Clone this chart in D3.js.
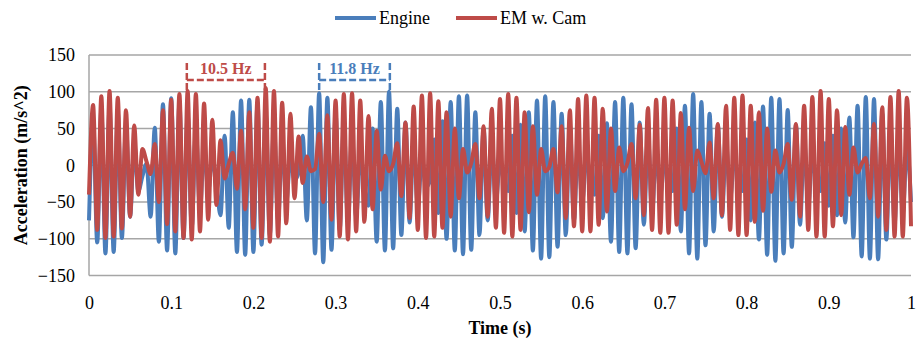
<!DOCTYPE html>
<html>
<head>
<meta charset="utf-8">
<script src="https://cdn.jsdelivr.net/npm/d3@7"></script>
<style>
  body { margin: 0; background: #fff; }
  svg text { font-family: "Liberation Serif", "Times New Roman", serif; fill: #000; }
</style>
</head>
<body>
<div id="chart"></div>
<script>
// acceleration extremes, one sample every 5 ms (0 .. 1 s)
const timeStep = 0.005;
const engine = [
  -75, 60, -105, 75, -120, 80, -118, 72, -99, 55,
  -70, 30, -35, -15, 2, -70, 51, -104, 83, -116,
  91, -120, 85, -99, 70, -85, 50, -60, 25, -35,
  8, -25, -68, 40, -85, 72, -118, 88, -122, 89,
  -118, 85, -108, 70, -95, 55, -75, 35, -50, 10,
  -20, -10, 40, -75, 79, -120, 98, -132, 92, -115,
  70, -88, 55, -78, 40, -70, 10, -30, -55, 50,
  -104, 86, -116, 100, -113, 77, -95, 58, -78, 35,
  -55, 8, -30, -20, 35, -65, 60, -100, 86, -116,
  94, -121, 95, -115, 72, -95, 50, -75, 30, -50,
  5, -25, -35, 40, -65, 55, -90, 72, -116, 88,
  -127, 94, -125, 86, -111, 70, -95, 55, -75, 30,
  -50, 5, -20, -40, 40, -72, 57, -104, 86, -118,
  92, -120, 83, -113, 58, -81, 40, -65, 20, -40,
  0, -15, -35, 50, -90, 81, -120, 97, -127, 86,
  -109, 70, -90, 55, -70, 30, -45, 5, -15, -35,
  35, -75, 58, -101, 80, -122, 92, -130, 90, -120,
  75, -111, 55, -81, 35, -55, 10, -25, -35, 30,
  -55, 40, -68, 50, -78, 65, -98, 81, -124, 93,
  -127, 90, -128, 70, -101, 55, -80, 40, -65, 25,
  -50
];
const emCam = [
  -40, 82, -88, 94, -99, 101, -97, 92, -86, 75,
  -70, 54, -40, 22, 5, -12, 29, -50, 75, -80,
  89, -90, 97, -99, 101, -101, 97, -90, 84, -74,
  62, -54, 34, -18, 2, 17, -32, 47, -60, 72,
  -85, 92, -99, 105, -104, 101, -97, 85, -79, 70,
  -45, 39, -24, 12, -8, -5, 43, -50, 68, -74,
  88, -97, 97, -101, 98, -90, 88, -77, 67, -60,
  47, -33, 13, -8, 2, 30, -42, 58, -72, 80,
  -88, 95, -99, 98, -97, 87, -85, 72, -70, 50,
  -45, 22, -10, 3, 29, -45, 53, -70, 77, -85,
  90, -92, 97, -97, 92, -88, 72, -64, 53, -40,
  22, -8, -2, 22, -37, 53, -72, 75, -83, 90,
  -90, 95, -90, 92, -81, 77, -63, 50, -35, 24,
  -8, 3, 29, -45, 55, -68, 78, -88, 89, -92,
  92, -92, 88, -81, 71, -60, 51, -35, 20, 5,
  -11, 31, -45, 56, -68, 81, -88, 92, -95, 95,
  -95, 81, -77, 72, -62, 50, -36, 20, -10, 2,
  29, -47, 56, -70, 81, -88, 93, -97, 101, -97,
  90, -83, 75, -68, 52, -40, 24, -10, 2, 10,
  -45, 56, -70, 79, -88, 93, -97, 101, -97, 92,
  -83
];
const yTicks = [-150, -100, -50, 0, 50, 100, 150];
const xTicks = [0, 0.1, 0.2, 0.3, 0.4, 0.5, 0.6, 0.7, 0.8, 0.9, 1];
const seriesNames = ['Engine', 'EM w. Cam'];
const seriesColors = ['#4a7ebb', '#be4b48'];
// beat period brackets: [start, end] in seconds
const beatLabels = ['10.5 Hz', '11.8 Hz'];
const beatSpans = [[0.119, 0.214], [0.28, 0.366]];
const beatColors = ['#be4b48', '#4a7ebb'];

const serif = '"Liberation Serif", "Times New Roman", serif';
const width = 917, height = 341;
const margin = {left: 89, right: 6, top: 55, bottom: 65.5};

const svg = d3.select('#chart').append('svg')
  .attr('width', width)
  .attr('height', height)
  .attr('font-family', serif);

const x = d3.scaleLinear().domain([0, 1]).range([margin.left, width - margin.right]);
const y = d3.scaleLinear().domain([-150, 150]).range([height - margin.bottom, margin.top]);

// grid
svg.append('g').selectAll('line')
  .data(yTicks)
  .join('line')
  .attr('x1', x(0)).attr('x2', x(1))
  .attr('y1', d => y(d)).attr('y2', d => y(d))
  .attr('stroke', '#a6a6a6')
  .attr('stroke-width', 1.5);
svg.append('line')
  .attr('x1', x(0)).attr('x2', x(0))
  .attr('y1', y(150)).attr('y2', y(-150))
  .attr('stroke', '#a6a6a6')
  .attr('stroke-width', 1.5);

// axes (labels only)
const yAxisG = svg.append('g')
  .attr('transform', `translate(${x(0)},0)`)
  .call(d3.axisLeft(y).tickValues(yTicks).tickSize(0).tickPadding(14));
const xAxisG = svg.append('g')
  .attr('transform', `translate(0,${y(-150)})`)
  .call(d3.axisBottom(x).tickValues(xTicks).tickSize(0).tickPadding(21)
    .tickFormat(d => d3.format('~g')(d)));
[yAxisG, xAxisG].forEach(g => {
  g.attr('font-family', serif).attr('font-size', 18);
  g.select('.domain').remove();
  g.selectAll('text').attr('fill', '#000');
});

// axis titles
svg.append('text')
  .attr('transform', `translate(27,${y(0)}) rotate(-90)`)
  .attr('text-anchor', 'middle')
  .attr('font-size', 18)
  .attr('font-weight', 'bold')
  .text('Acceleration (m/s^2)');
svg.append('text')
  .attr('x', x(0.5))
  .attr('y', 334)
  .attr('text-anchor', 'middle')
  .attr('font-size', 18)
  .attr('font-weight', 'bold')
  .text('Time (s)');

// series
const line = d3.line()
  .x((d, i) => x(i * timeStep))
  .y(d => y(d))
  .curve(d3.curveMonotoneX);
[engine, emCam].forEach((s, i) => {
  svg.append('path')
    .datum(s)
    .attr('fill', 'none')
    .attr('stroke', seriesColors[i])
    .attr('stroke-width', 4)
    .attr('stroke-linejoin', 'round')
    .attr('d', line);
});

// beat brackets
beatSpans.forEach((span, i) => {
  const x0 = x(span[0]), x1 = x(span[1]);
  svg.append('path')
    .attr('d', `M${x0},63V93M${x1},63V93M${x0},80H${x1}`)
    .attr('stroke', beatColors[i])
    .attr('stroke-width', 2.5)
    .attr('stroke-dasharray', '7,3')
    .attr('fill', 'none');
  svg.append('text')
    .attr('x', (x0 + x1) / 2)
    .attr('y', 74)
    .attr('text-anchor', 'middle')
    .style('fill', beatColors[i])
    .attr('font-size', 16)
    .attr('font-weight', 'bold')
    .text(beatLabels[i]);
});

// legend
const legend = svg.append('g');
const legendX = [335, 456];
seriesNames.forEach((name, i) => {
  legend.append('line')
    .attr('x1', legendX[i]).attr('x2', legendX[i] + 41)
    .attr('y1', 18).attr('y2', 18)
    .attr('stroke', seriesColors[i])
    .attr('stroke-width', 4);
  legend.append('text')
    .attr('x', legendX[i] + 44)
    .attr('y', 24)
    .attr('font-size', 18)
    .text(name);
});
</script>
</body>
</html>
